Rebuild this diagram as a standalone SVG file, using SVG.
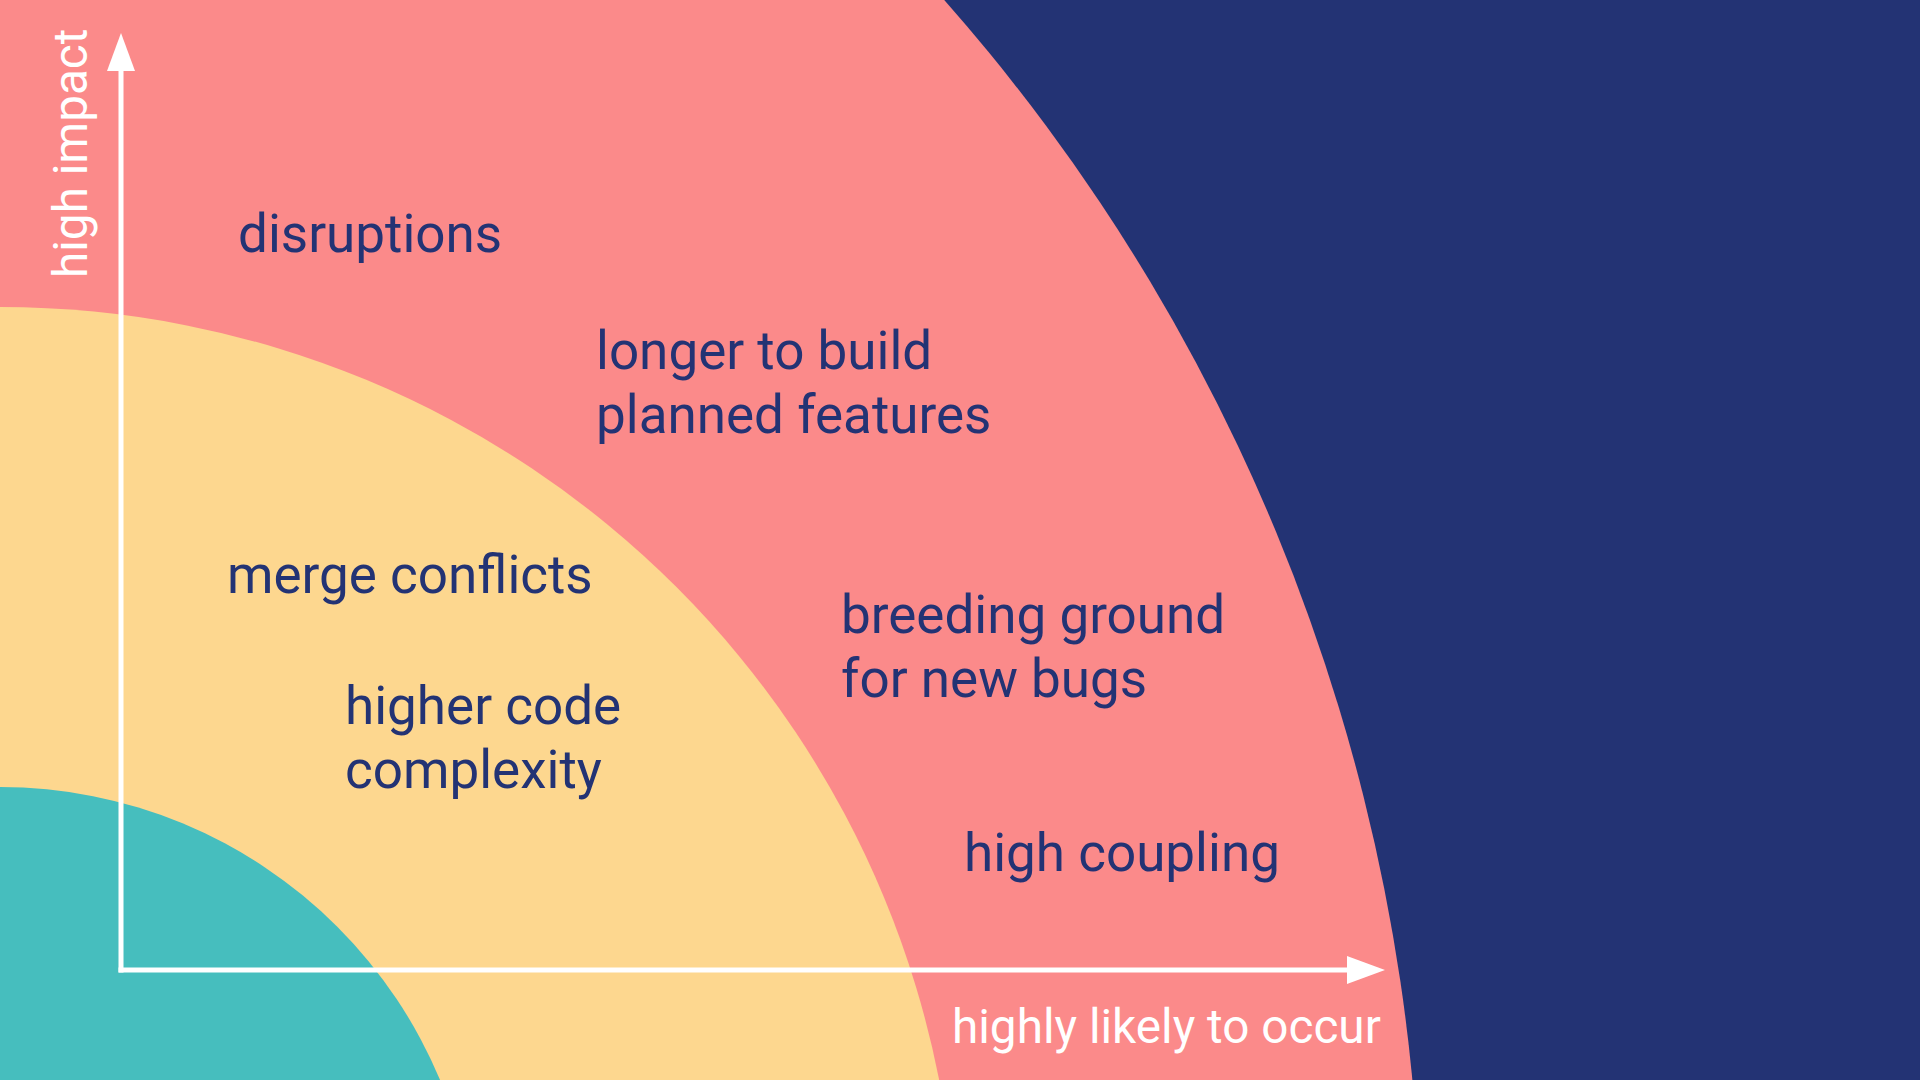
<svg xmlns="http://www.w3.org/2000/svg" width="1920" height="1080" viewBox="0 0 1920 1080">
  <style>
    .lbl { font-family: Roboto, "Liberation Sans", sans-serif; font-size: 53px; fill: #233374; }
    .axis-lbl { font-family: Roboto, "Liberation Sans", sans-serif; font-size: 47.7px; fill: #ffffff; }
    .axis { stroke: #ffffff; stroke-width: 5; fill: none; }
  </style>
  <defs>
    <marker id="arrow" viewBox="0 0 38 28" refX="0" refY="14" markerWidth="38" markerHeight="28" markerUnits="userSpaceOnUse" orient="auto">
      <path d="M0,0 L38,14 L0,28 Z" fill="#ffffff"/>
    </marker>
  </defs>
  <g id="background">
    <rect x="0" y="0" width="1920" height="1080" fill="#233374"/>
  </g>
  <g id="zone-pink">
    <circle cx="-485" cy="1261" r="1906" fill="#FB8A8A"/>
  </g>
  <g id="zone-yellow">
    <circle cx="0" cy="1264" r="957" fill="#FDD78F"/>
  </g>
  <g id="zone-teal">
    <circle cx="0" cy="1264" r="477" fill="#46BEBE"/>
  </g>
  <g id="connectors">
    <path class="axis" d="M121,972.5 L121,71" marker-end="url(#arrow)"/>
    <path class="axis" d="M118.5,970 L1347,970" marker-end="url(#arrow)"/>
  </g>
  <g id="label-high-impact">
    <text class="axis-lbl" transform="translate(87,278) rotate(-90)">high impact</text>
  </g>
  <g id="label-highly-likely">
    <text class="axis-lbl" x="952" y="1043">highly likely to occur</text>
  </g>
  <g id="node-disruptions">
    <text class="lbl" x="238" y="252">disruptions</text>
  </g>
  <g id="node-longer-to-build">
    <text class="lbl" x="596" y="369">longer to build</text>
    <text class="lbl" x="596" y="433">planned features</text>
  </g>
  <g id="node-merge-conflicts">
    <text class="lbl" x="227" y="593">merge conflicts</text>
  </g>
  <g id="node-higher-code-complexity">
    <text class="lbl" x="345" y="724">higher code</text>
    <text class="lbl" x="345" y="788">complexity</text>
  </g>
  <g id="node-breeding-ground">
    <text class="lbl" x="841" y="633">breeding ground</text>
    <text class="lbl" x="841" y="697">for new bugs</text>
  </g>
  <g id="node-high-coupling">
    <text class="lbl" x="964" y="871">high coupling</text>
  </g>
</svg>
